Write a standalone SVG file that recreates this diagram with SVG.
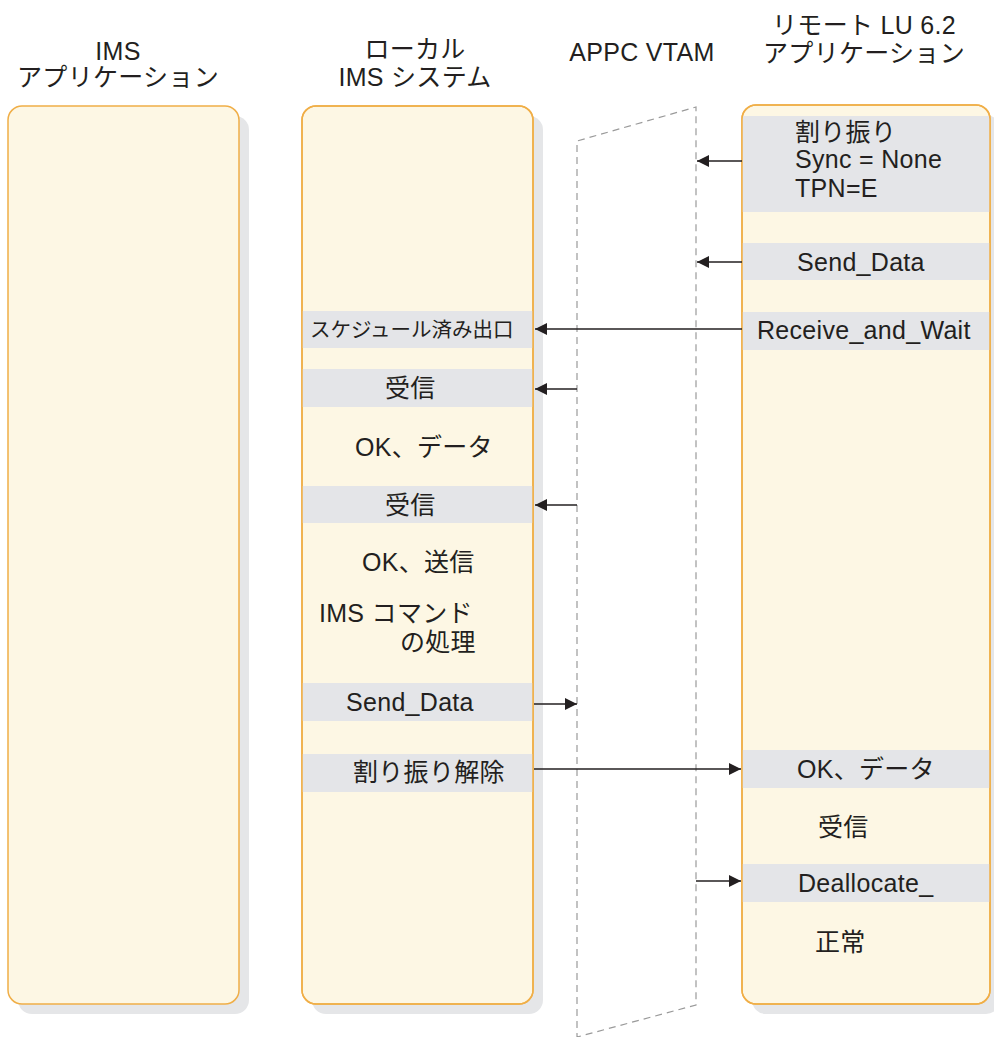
<svg xmlns="http://www.w3.org/2000/svg" width="994" height="1037" viewBox="0 0 994 1037">
<style>
text{font-family:"Liberation Sans","Noto Sans CJK JP",sans-serif;font-size:25px;fill:#231f20;letter-spacing:0.3px}
.h{text-anchor:middle}
.box{fill:#fdf7e4;stroke:#f0ae47;stroke-width:1.5}
.sh{fill:#e5e6e8}
.band{fill:#e4e5e8}
.vt{fill:none;stroke:#9a9a9a;stroke-width:1.2;stroke-dasharray:7,5}
.c{stroke:#231f20;stroke-width:1.3;fill:none;marker-end:url(#ah)}
</style>
<defs>
<marker id="ah" markerUnits="userSpaceOnUse" markerWidth="13" markerHeight="12" refX="12" refY="6" orient="auto">
<path d="M0,0 L12,6 L0,12 z" fill="#231f20"/>
</marker>
<clipPath id="c1"><rect x="8" y="106" width="231" height="898" rx="14"/></clipPath>
<clipPath id="c2"><rect x="302" y="106" width="231" height="898" rx="14"/></clipPath>
<clipPath id="c4"><rect x="742" y="105" width="248" height="899" rx="14"/></clipPath>
</defs>

<g id="headers">
<text class="h" x="118" y="60">IMS</text>
<text class="h" x="118" y="86">アプリケーション</text>
<text class="h" x="415" y="58">ローカル</text>
<text class="h" x="415" y="86">IMS システム</text>
<text class="h" x="642" y="61">APPC VTAM</text>
<text class="h" x="864" y="34">リモート LU 6.2</text>
<text class="h" x="864" y="62">アプリケーション</text>
</g>

<g id="ims-app">
<rect class="sh" x="18" y="116" width="231" height="898" rx="14"/>
<rect class="box" x="8" y="106" width="231" height="898" rx="14"/>
</g>

<g id="local-ims">
<rect class="sh" x="312" y="116" width="231" height="898" rx="14"/>
<rect class="box" x="302" y="106" width="231" height="898" rx="14"/>
<g clip-path="url(#c2)">
<rect class="band" x="302" y="311" width="231" height="37"/>
<rect class="band" x="302" y="369" width="231" height="38"/>
<rect class="band" x="302" y="486" width="231" height="37"/>
<rect class="band" x="302" y="683" width="231" height="38"/>
<rect class="band" x="302" y="754" width="231" height="38"/>
</g>
<rect class="box" x="302" y="106" width="231" height="898" rx="14" fill="none" style="fill:none"/>
<text x="310" y="337" style="font-size:20.5px;letter-spacing:0">スケジュール済み出口</text>
<text x="385" y="397">受信</text>
<text x="355" y="456">OK、データ</text>
<text x="385" y="514">受信</text>
<text x="362" y="571">OK、送信</text>
<text x="319" y="622">IMS コマンド</text>
<text x="400" y="651">の処理</text>
<text x="346" y="711">Send_Data</text>
<text x="353" y="781">割り振り解除</text>
</g>

<g id="appc-vtam">
<path class="vt" d="M577,1040 L577,141 L696,107 L696,1005 L577,1037"/>
</g>

<g id="remote-app">
<rect class="sh" x="752" y="115" width="248" height="899" rx="14"/>
<rect class="box" x="742" y="105" width="248" height="899" rx="14"/>
<g clip-path="url(#c4)">
<rect class="band" x="742" y="116" width="248" height="96"/>
<rect class="band" x="742" y="243" width="248" height="37"/>
<rect class="band" x="742" y="312" width="248" height="38"/>
<rect class="band" x="742" y="750" width="248" height="38"/>
<rect class="band" x="742" y="864" width="248" height="38"/>
</g>
<rect class="box" x="742" y="105" width="248" height="899" rx="14" style="fill:none"/>
<text x="795" y="141">割り振り</text>
<text x="795" y="168">Sync = None</text>
<text x="795" y="197">TPN=E</text>
<text x="797" y="271">Send_Data</text>
<text x="757" y="339">Receive_and_Wait</text>
<text x="797" y="778">OK、データ</text>
<text x="818" y="836">受信</text>
<text x="798" y="892">Deallocate_</text>
<text x="815" y="951">正常</text>
</g>

<g id="connectors">
<path class="c" d="M742,161 L697,161"/>
<path class="c" d="M742,262 L697,262"/>
<path class="c" d="M742,329 L535,329"/>
<path class="c" d="M577,389 L535,389"/>
<path class="c" d="M577,505 L535,505"/>
<path class="c" d="M534,704 L577,704"/>
<path class="c" d="M534,769 L741,769"/>
<path class="c" d="M696,881 L741,881"/>
</g>
</svg>
